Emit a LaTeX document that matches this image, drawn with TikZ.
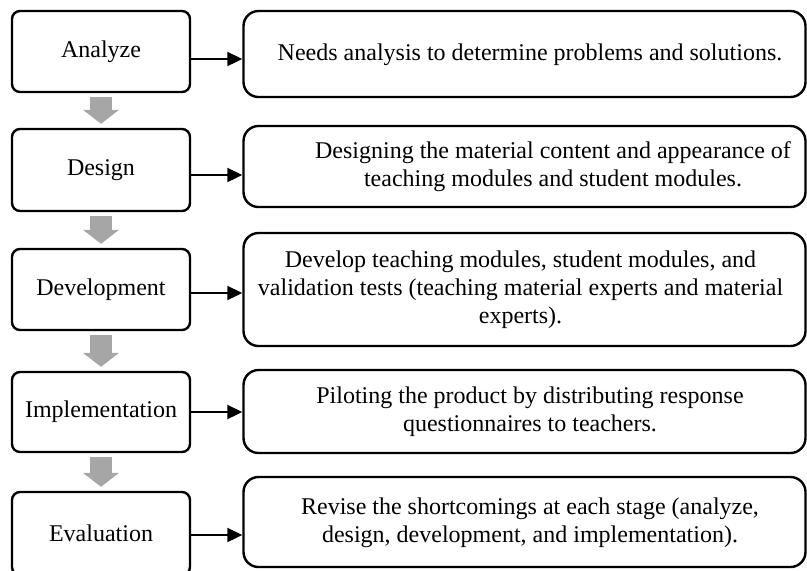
\documentclass[tikz,border=0pt]{standalone}
\usepackage{fontspec}
\setmainfont{Liberation Serif}
\usetikzlibrary{arrows.meta}

\definecolor{stepgray}{RGB}{166,166,166}

\begin{document}
\begin{tikzpicture}[x=0.5pt,y=-0.5pt,
  stage/.style={draw,line width=1.2pt,rounded corners=4pt,minimum width=89pt,
    font=\fontsize{12}{14}\selectfont},
  info/.style={draw,line width=1.2pt,rounded corners=7.5pt,minimum width=281pt},
  infotext/.style={align=center,font=\fontsize{12}{14}\selectfont},
  link/.style={line width=1pt,-{Triangle[length=7.5pt,width=7pt]}},
  down/.style={line width=11pt,stepgray,-{Triangle[length=7pt,width=18pt,line width=0pt]}}]
\useasboundingbox (0,0) rectangle (807,570);
\clip (0,0) rectangle (807,570);

% stages
\node[stage,minimum height=40.5pt] (ana) at (101,51.5) {Analyze};
\node[stage,minimum height=41pt] (des) at (101,170) {Design};
\node[stage,minimum height=40.5pt] (dev) at (101,289.5) {Development};
\node[stage,minimum height=40pt] (imp) at (101,412) {Implementation};
\node[stage,minimum height=41.5pt] (eva) at (101,533.5) {Evaluation};

% activity boxes
\node[info,minimum height=43pt] (needs) at (524.5,54) {};
\node[info,minimum height=40.5pt] (layout) at (524.5,166.5) {};
\node[info,minimum height=56.5pt] (build) at (524.5,289.5) {};
\node[info,minimum height=41.5pt] (pilot) at (524.5,411.5) {};
\node[info,minimum height=45pt] (revise) at (524.5,522) {};

\node[infotext] (needstxt) at (530,55) {Needs analysis to determine problems and solutions.};
\node[infotext] (layouttxt) at (553,167) {Designing the material content and appearance of\\
  teaching modules and student modules.};
\node[infotext] (buildtxt) at (520.5,290) {Develop teaching modules, student modules, and\\
  validation tests (teaching material experts and material\\ experts).};
\node[infotext] (pilottxt) at (530,411.5) {Piloting the product by distributing response\\
  questionnaires to teachers.};
\node[infotext] (revisetxt) at (530,523) {Revise the shortcomings at each stage (analyze,\\
  design, development, and implementation).};

% flow between stages
\foreach \a/\b in {ana/des,des/dev,dev/imp,imp/eva}{
  \draw[down] ([yshift=-2pt]\a.south) -- ([yshift=2pt]\b.north);
}
\foreach \a/\b/\y in {ana/needs/59,des/layout/175,dev/build/293,imp/pilot/412,eva/revise/535}{
  \draw[link] (\a.east |- 0,\y) -- (\b.west |- 0,\y);
}
\end{tikzpicture}
\end{document}
